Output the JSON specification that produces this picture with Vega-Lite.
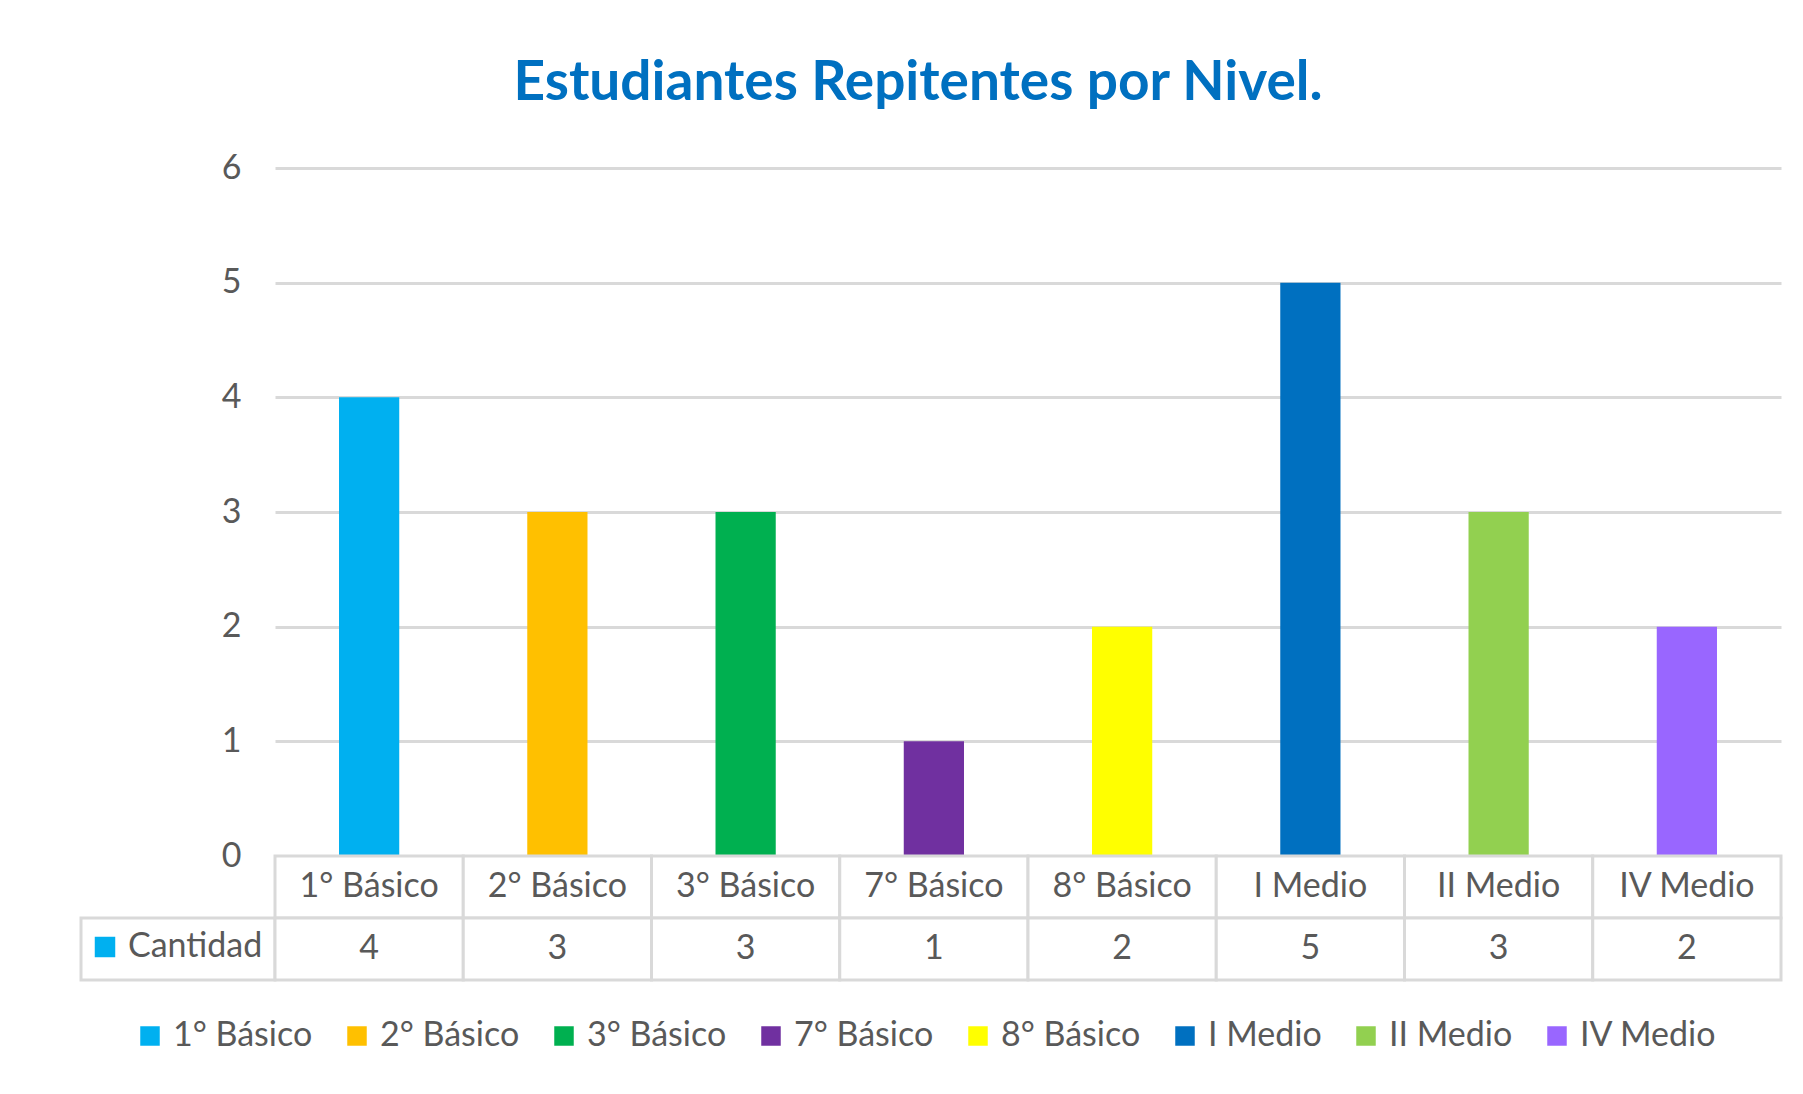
{
  "$schema": "https://vega.github.io/schema/vega-lite/v6.json",
  "background": "white",
  "padding": {"left": 79, "top": 56, "right": 10, "bottom": 5},
  "title": {"text": "Estudiantes Repitentes por Nivel.", "font": "Lato", "fontSize": 55, "fontWeight": "bold", "color": "#0070C0", "anchor": "middle", "offset": 39, "dx": -13},
  "datasets": {
    "niveles": [
      {"nivel": "1° Básico", "cantidad": 4},
      {"nivel": "2° Básico", "cantidad": 3},
      {"nivel": "3° Básico", "cantidad": 3},
      {"nivel": "7° Básico", "cantidad": 1},
      {"nivel": "8° Básico", "cantidad": 2},
      {"nivel": "I Medio", "cantidad": 5},
      {"nivel": "II Medio", "cantidad": 3},
      {"nivel": "IV Medio", "cantidad": 2}
    ]
  },
  "columns": 2,
  "spacing": 0,
  "bounds": "flush",
  "resolve": {"scale": {"fill": "independent"}, "legend": {"fill": "independent"}},
  "concat": [
    {
      "width": 194, "height": 688,
      "data": {"values": [{"v": 0}]},
      "mark": {"type": "text", "text": ""},
      "encoding": {}
    },
    {
      "width": 1506, "height": 688,
      "data": {"name": "niveles"},
      "mark": {"type": "bar", "width": {"band": 0.32}},
      "encoding": {
        "x": {"field": "nivel", "type": "nominal", "sort": ["1° Básico", "2° Básico", "3° Básico", "7° Básico", "8° Básico", "I Medio", "II Medio", "IV Medio"], "scale": {"paddingInner": 0, "paddingOuter": 0}, "axis": null},
        "y": {"field": "cantidad", "type": "quantitative", "scale": {"domain": [0, 6], "nice": false},
          "axis": {"title": null, "tickCount": 6, "grid": true, "gridColor": "#D9D9D9", "gridWidth": 3, "domain": false, "ticks": false, "labelPadding": 34, "labelFont": "Lato", "labelFontSize": 34, "labelColor": "#595959"}},
        "color": {"field": "nivel", "type": "nominal", "sort": ["1° Básico", "2° Básico", "3° Básico", "7° Básico", "8° Básico", "I Medio", "II Medio", "IV Medio"],
          "scale": {"domain": ["1° Básico", "2° Básico", "3° Básico", "7° Básico", "8° Básico", "I Medio", "II Medio", "IV Medio"], "range": ["#00B0F0", "#FFC000", "#00B050", "#7030A0", "#FFFF00", "#0070C0", "#92D050", "#9966FF"]},
          "legend": {"orient": "none", "legendX": 52, "legendY": 851, "direction": "horizontal", "title": null}}
      }
    },
    {
      "width": 194, "height": 124,
      "data": {"values": [{"serie": "Cantidad"}]},
      "layer": [
        {
          "mark": {"type": "rect", "fill": "white", "stroke": "#D9D9D9", "strokeWidth": 3},
          "encoding": {"y": {"datum": "cantidad", "type": "nominal", "scale": {"domain": ["nivel", "cantidad"], "paddingInner": 0, "paddingOuter": 0}, "axis": null}}
        },
        {
          "mark": {"type": "square", "opacity": 0},
          "encoding": {
            "fill": {"field": "serie", "type": "nominal", "scale": {"range": ["#00B0F0"]},
              "legend": {"orient": "none", "legendX": 7, "legendY": 74, "title": null, "symbolType": "square", "symbolSize": 420, "symbolOpacity": 1}}
          }
        }
      ]
    },
    {
      "width": 1506, "height": 124,
      "data": {"name": "niveles"},
      "transform": [{"fold": ["nivel", "cantidad"], "as": ["fila", "valor"]}],
      "encoding": {
        "x": {"field": "nivel", "type": "nominal", "sort": ["1° Básico", "2° Básico", "3° Básico", "7° Básico", "8° Básico", "I Medio", "II Medio", "IV Medio"], "scale": {"paddingInner": 0, "paddingOuter": 0}, "axis": null},
        "y": {"field": "fila", "type": "nominal", "sort": ["nivel", "cantidad"], "scale": {"domain": ["nivel", "cantidad"], "paddingInner": 0, "paddingOuter": 0}, "axis": null}
      },
      "layer": [
        {"mark": {"type": "rect", "fill": "white", "stroke": "#D9D9D9", "strokeWidth": 3}},
        {"mark": {"type": "text", "font": "Lato", "fontSize": 34, "color": "#595959"}, "encoding": {"text": {"field": "valor", "type": "nominal"}}}
      ]
    }
  ],
  "config": {
    "view": {"stroke": null},
    "font": "Lato",
    "legend": {"labelFont": "Lato", "labelFontSize": 34, "labelColor": "#595959", "symbolType": "square", "symbolSize": 380, "symbolStrokeWidth": 0, "columnPadding": 27, "labelOffset": 6, "padding": 0, "labelLimit": 400}
  }
}
